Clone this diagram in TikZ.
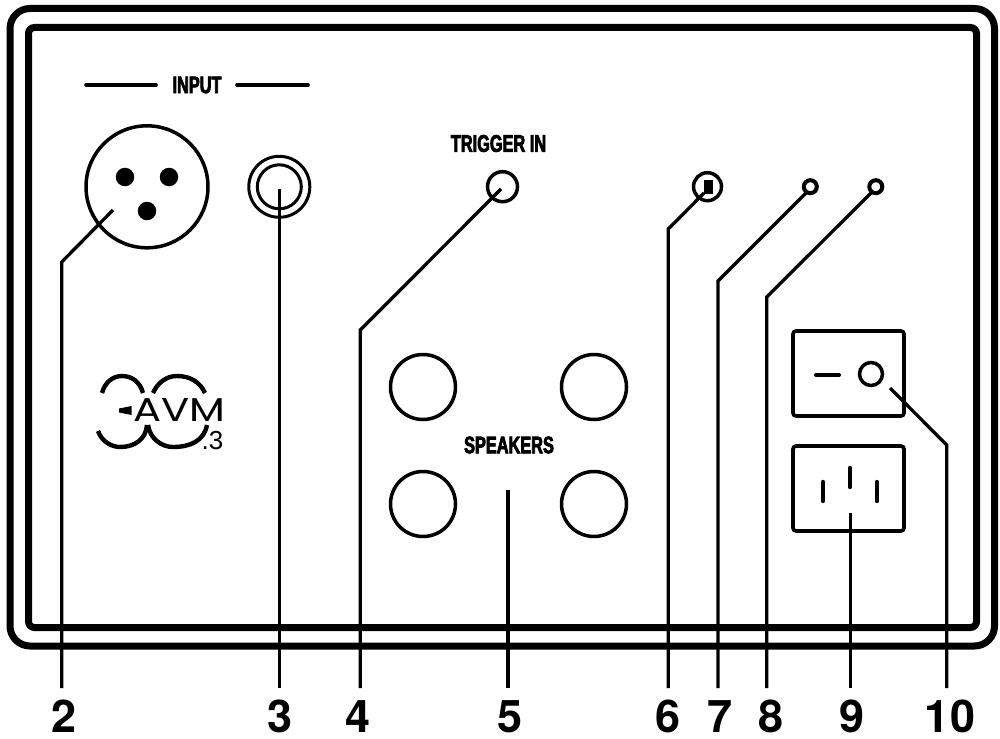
\documentclass[tikz,border=0pt]{standalone}
\usepackage{fontspec}
\setmainfont{Liberation Sans}
\newfontfamily\numfont{TeX Gyre Heros Bold}
\newfontfamily\condfont[FakeStretch=0.68,FakeBold=3]{Liberation Sans Bold}
\newfontfamily\logofont[FakeStretch=1.26]{Poppins}
\begin{document}
\begin{tikzpicture}[x=1pt,y=-1pt,
  every node/.style={inner sep=0pt,outer sep=0pt},
  panel/.style={line width=7pt,draw=black},
  leader/.style={line width=3.3pt,line join=miter,draw=black},
  part/.style={circle,draw=black,fill=none,line width=3.5pt},
  pin/.style={circle,fill=black,minimum size=18.5pt},
  box/.style={draw=black,line width=3.6pt,rounded corners=3pt},
  bar/.style={line width=3.6pt,line cap=round,draw=black},
  num/.style={font=\fontsize{45}{45}\selectfont\numfont,anchor=base},
  tag/.style={font=\fontsize{24}{24}\selectfont\condfont,anchor=center},
  logoarc/.style={line width=4.4pt,draw=black}]
\useasboundingbox (0,0) rectangle (1000,738);
\fill[white] (0,0) rectangle (1000,738);
% panel
\draw[panel,rounded corners=20pt] (10,8.5) rectangle (994.5,646);
\draw[panel,rounded corners=6pt] (28.5,27.5) rectangle (976.5,627.5);
% input
\node[tag] (input) at (197,85) {INPUT};
\coordinate (il1) at (86,85);\coordinate (il2) at (156,85);
\coordinate (ir1) at (237,85);\coordinate (ir2) at (308,85);
\draw[bar] (il1) -- (il2);
\draw[bar] (ir1) -- (ir2);
\node[part,minimum size=122pt] (xlr) at (147,186.8) {};
\node[pin] (p1) at (125,177) {};
\node[pin] (p2) at (169,177) {};
\node[pin] (p3) at (147,211) {};
\node[part,line width=3pt,minimum size=61pt] (jacko) at (279.3,186.8) {};
\node[part,line width=3pt,minimum size=44pt] (jacki) at (279.3,186.8) {};
\node[tag] (trig) at (498.5,143.5) {TRIGGER IN};
\node[part,minimum size=30pt] (tr) at (502.5,186.7) {};
\node[part,minimum size=28pt] (sw6) at (707.5,186.7) {};
\fill (704,179.5) rectangle (712.5,194);
\node[part,line width=4pt,minimum size=13pt] (led7) at (810.3,186.7) {};
\node[part,line width=4pt,minimum size=13pt] (led8) at (875.8,186.7) {};
% speakers
\node[part,minimum size=65pt] (s1) at (423,387) {};
\node[part,minimum size=65pt] (s2) at (594,387) {};
\node[part,minimum size=65pt] (s3) at (423,504) {};
\node[part,minimum size=65pt] (s4) at (594,504) {};
\node[tag] (spk) at (509,445) {SPEAKERS};
% switch
\draw[box] (793,331) rectangle (904,416);
\coordinate (d1) at (816,375);\coordinate (d2) at (839,375);
\draw[bar,line width=4pt] (d1) -- (d2);
\node[part,minimum size=23pt] (rock) at (871,374) {};
% socket
\draw[box] (793,446) rectangle (904,531);
\foreach \x/\a/\b in {823/482/501,850/468/487,877/482/501}
  \draw[bar,line width=4.4pt] (\x,\a) -- (\x,\b);
% logo
\draw[logoarc] (102,393) .. controls (105,382) and (113,376) .. (122,376) .. controls (132,376) and (140,382) .. (143,393);
\draw[logoarc] (153,393) .. controls (158,382) and (167,376) .. (177,376) .. controls (190,376) and (200,382) .. (205,393);
\draw[logoarc] (98,431) .. controls (102,442) and (112,447) .. (120,447) .. controls (135,447) and (146,439) .. (147,425);
\draw[logoarc] (148,425) .. controls (150,439) and (162,447) .. (173,447) .. controls (190,447) and (204,441) .. (207,425);
\fill (119,408.5) -- (131.7,406) -- (131.7,415) -- (119,412.5) -- cycle;
\node[font=\fontsize{33}{33}\selectfont\logofont,anchor=base] (avm) at (179,421) {AVM};
\node[font=\fontsize{26}{26}\selectfont,anchor=base] (pt3) at (212.5,449.5) {.3};
% labels
\node[num] (n2) at (64.3,732) {2};
\node[num] (n3) at (280,732) {3};
\node[num] (n4) at (358.3,732) {4};
\node[num] (n5) at (510.5,732) {5};
\node[num] (n6) at (667.7,732) {6};
\node[num] (n7) at (720,732) {7};
\node[num] (n8) at (771,732) {8};
\node[num] (n9) at (852,732) {9};
\node[num] (n10) at (950,732) {10};
% connectors
\coordinate (b2) at (61.7,688);\coordinate (e2) at (61.7,262);\coordinate (t2) at (113,210);
\coordinate (b3) at (279.3,688);\coordinate (t3) at (279.3,188.5);
\coordinate (b4) at (360.3,688);\coordinate (e4) at (360.3,330);\coordinate (t4) at (501,189);
\coordinate (b5) at (508,688);\coordinate (t5) at (508,490);
\coordinate (b6) at (668.3,688);\coordinate (e6) at (668.3,229);\coordinate (t6) at (704,193);
\coordinate (b7) at (718,688);\coordinate (e7) at (718,281);\coordinate (t7) at (806,193);
\coordinate (b8) at (766.7,688);\coordinate (e8) at (766.7,297);\coordinate (t8) at (871.5,192.5);
\coordinate (b9) at (850.3,688);\coordinate (t9) at (850.3,513);
\coordinate (b10) at (946.7,688);\coordinate (e10) at (946.7,445);\coordinate (t10) at (890,388);
\draw[leader] (b2) -- (e2) -- (t2);
\draw[leader] (b3) -- (t3);
\draw[leader] (b4) -- (e4) -- (t4);
\draw[leader] (b5) -- (t5);
\draw[leader] (b6) -- (e6) -- (t6);
\draw[leader] (b7) -- (e7) -- (t7);
\draw[leader] (b8) -- (e8) -- (t8);
\draw[leader] (b9) -- (t9);
\draw[leader] (b10) -- (e10) -- (t10);
\end{tikzpicture}
\end{document}
